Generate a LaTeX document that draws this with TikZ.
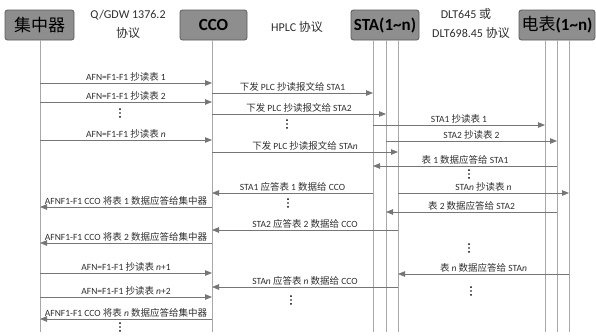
\documentclass[tikz,border=0pt]{standalone}
\usepackage{fontspec}
\setmainfont{Carlito}
\newfontfamily\cjk{Noto Sans CJK SC}
\usetikzlibrary{arrows.meta}
\definecolor{SeqBox}{HTML}{8E8E8E}
\definecolor{SeqEdge}{HTML}{5A5A5A}
\definecolor{SeqLine}{HTML}{767676}
\definecolor{SeqLife}{HTML}{A8A8A8}
\definecolor{SeqText}{HTML}{2E2E2E}
\newcommand{\zh}[1]{{\cjk #1}}

\begin{document}
\begin{tikzpicture}[
  x=1pt, y=-1pt,
  actor/.style={draw=SeqEdge, fill=SeqBox, rounded corners=2.5pt, minimum height=30pt, inner sep=0pt, line width=0.8pt, font=\fontsize{17}{17}\selectfont},
  proto/.style={inner sep=0pt, text=SeqText, font=\fontsize{12}{12}\selectfont},
  life/.style={draw=SeqLife, line width=0.7pt},
  msg/.style={-{Triangle[length=7pt,width=5.5pt]}, draw=SeqLine, line width=0.8pt},
  lbl/.style={above, inner sep=1.2pt, text=SeqText, font=\fontsize{9.5}{9.5}\selectfont},
  more/.style={inner sep=0pt, minimum width=2.4pt, minimum height=10.5pt, path picture={
    \fill[black] (path picture bounding box.center) circle (0.95pt);
    \fill[black] ([yshift=3.9pt]path picture bounding box.center) circle (0.95pt);
    \fill[black] ([yshift=-3.9pt]path picture bounding box.center) circle (0.95pt);}}
]
  \useasboundingbox (0,0) rectangle (596,335);

  % participants
  \node[actor, minimum width=69pt] (conc) at (39.5,25) {\zh{集中器}};
  \node[actor, minimum width=67pt] (cco) at (213.5,25) {\bfseries CCO};
  \node[actor, minimum width=68pt] (sta) at (385,25) {\bfseries STA(1\textasciitilde n)};
  \node[actor, minimum width=76pt] (meter) at (557,25) {\zh{电表}\bfseries(1\textasciitilde n)};

  \node[proto] (p1a) at (128,15) {Q/GDW 1376.2};
  \node[proto] (p1b) at (128,33) {\zh{协议}};
  \node[proto] (p2) at (297,27) {HPLC \zh{协议}};
  \node[proto] (p3a) at (466,14) {DLT645 \zh{或}};
  \node[proto] (p3b) at (471,33) {DLT698.45 \zh{协议}};

  % lifelines
  \coordinate (lconc) at (40,40);
  \coordinate (lcco) at (212,40);
  \coordinate (ls1) at (373,40);
  \coordinate (ls2) at (386,40);
  \coordinate (ls3) at (398,40);
  \coordinate (lm1) at (545,40);
  \coordinate (lm2) at (557,40);
  \coordinate (lm3) at (569,40);
  \draw[life] (lconc) -- (lconc |- 0,332);
  \draw[life] (lcco) -- (lcco |- 0,332);
  \draw[life] (ls1) -- (ls1 |- 0,332);
  \draw[life] (ls2) -- (ls2 |- 0,332);
  \draw[life] (ls3) -- (ls3 |- 0,332);
  \draw[life] (lm1) -- (lm1 |- 0,332);
  \draw[life] (lm2) -- (lm2 |- 0,332);
  \draw[life] (lm3) -- (lm3 |- 0,332);

  % concentrator <-> CCO
  \draw[msg] (lconc |- 0,83) -- node[lbl] {AFN=F1-F1 \zh{抄读表} 1} (lcco |- 0,83);
  \draw[msg] (lconc |- 0,102) -- node[lbl] {AFN=F1-F1 \zh{抄读表} 2} (lcco |- 0,102);
  \node[more] (d1) at (120,113) {};
  \draw[msg] (lconc |- 0,140) -- node[lbl] {AFN=F1-F1 \zh{抄读表} \textit{n}} (lcco |- 0,140);
  \draw[msg] (lcco |- 0,207) -- node[lbl] {AFNF1-F1 CCO \zh{将表} 1 \zh{数据应答给集中器}} (lconc |- 0,207);
  \draw[msg] (lcco |- 0,243) -- node[lbl] {AFNF1-F1 CCO \zh{将表} 2 \zh{数据应答给集中器}} (lconc |- 0,243);
  \draw[msg] (lconc |- 0,273) -- node[lbl] {AFN=F1-F1 \zh{抄读表} \textit{n}+1} (lcco |- 0,273);
  \draw[msg] (lconc |- 0,297) -- node[lbl] {AFN=F1-F1 \zh{抄读表} \textit{n}+2} (lcco |- 0,297);
  \draw[msg] (lcco |- 0,319) -- node[lbl] {AFNF1-F1 CCO \zh{将表} \textit{n} \zh{数据应答给集中器}} (lconc |- 0,319);
  \node[more] (d2) at (120,327) {};

  % CCO <-> STA
  \draw[msg] (lcco |- 0,93) -- node[lbl] {\zh{下发} PLC \zh{抄读报文给} STA1} (ls1 |- 0,93);
  \draw[msg] (lcco |- 0,114) -- node[lbl] {\zh{下发} PLC \zh{抄读报文给} STA2} (ls2 |- 0,114);
  \node[more] (d3) at (287,124) {};
  \draw[msg] (lcco |- 0,152) -- node[lbl] {\zh{下发} PLC \zh{抄读报文给} STA\textit{n}} (ls3 |- 0,152);
  \draw[msg] (ls1 |- 0,193) -- node[lbl] {STA1 \zh{应答表} 1 \zh{数据给} CCO} (lcco |- 0,193);
  \node[more] (d4) at (288,203) {};
  \draw[msg] (ls3 |- 0,230) -- node[lbl] {STA2 \zh{应答表} 2 \zh{数据给} CCO} (lcco |- 0,230);
  \draw[msg] (ls3 |- 0,287) -- node[lbl] {STA\textit{n} \zh{应答表} \textit{n} \zh{数据给} CCO} (lcco |- 0,287);
  \node[more] (d5) at (291,300) {};

  % STA <-> meters
  \draw[msg] (ls1 |- 0,125) -- node[lbl] {STA1 \zh{抄读表} 1} (lm1 |- 0,125);
  \draw[msg] (ls2 |- 0,141) -- node[lbl] {STA2 \zh{抄读表} 2} (lm2 |- 0,141);
  \draw[msg] (lm2 |- 0,166) -- node[lbl] {\zh{表} 1 \zh{数据应答给} STA1} (ls1 |- 0,166);
  \node[more] (d6) at (469,174) {};
  \draw[msg] (ls3 |- 0,193) -- node[lbl] {STA\textit{n} \zh{抄读表} \textit{n}} (lm3 |- 0,193);
  \draw[msg] (lm2 |- 0,212) -- node[lbl] {\zh{表} 2 \zh{数据应答给} STA2} (ls2 |- 0,212);
  \node[more] (d7) at (469,248) {};
  \draw[msg] (lm3 |- 0,274) -- node[lbl] {\zh{表} \textit{n} \zh{数据应答给} STA\textit{n}} (ls3 |- 0,274);
  \node[more] (d8) at (471,291) {};
\end{tikzpicture}
\end{document}
